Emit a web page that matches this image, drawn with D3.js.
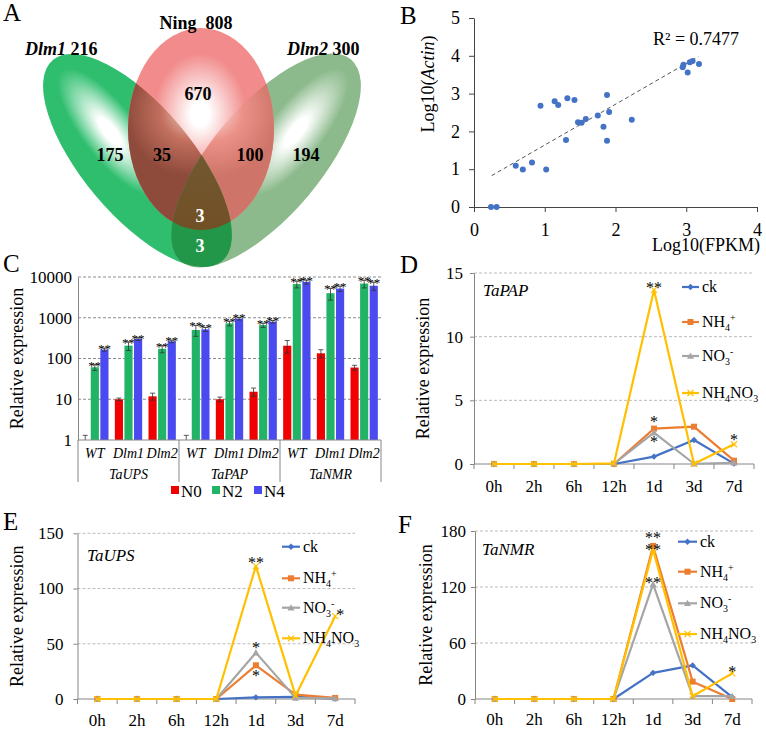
<!DOCTYPE html>
<html><head><meta charset="utf-8">
<script src="https://cdn.jsdelivr.net/npm/d3@7"></script>
<style>
body{margin:0;background:#fff}
svg{display:block}
text{font-family:"Liberation Serif","Times New Roman",serif;fill:#000}
</style>
</head><body>
<svg id="c" width="766" height="729"></svg>
<script>
// ================= DATA =================
// Panel A (Venn)
const vennSetNames = ["Dlm1", "Ning", "Dlm2"];
const vennSetTotals = [216, 808, 300];
// regions: Dlm1 only, Dlm1∩Ning, Ning only, Ning∩Dlm2, Dlm2 only, all three, Dlm1∩Dlm2 only
const vennRegionCounts = [175, 35, 670, 100, 194, 3, 3];

// Panel B (scatter)
const fpkmLog  = [0.24,0.32,0.59,0.69,0.82,1.02,0.94,1.14,1.19,1.32,1.42,1.30,1.47,1.52,1.58,1.75,1.83,1.88,1.88,1.91,2.23,2.95,2.96,3.02,3.05,3.09,3.18];
const actinLog = [0.00,0.00,1.09,0.99,1.18,0.99,2.68,2.80,2.70,2.88,2.83,1.77,2.24,2.23,2.33,2.42,2.12,2.96,1.75,2.51,2.31,3.70,3.76,3.56,3.83,3.86,3.78];
const trendX = [0.25, 3.17];
const trendY = [0.83, 3.98];
const r2Text = "R\u00B2 = 0.7477";
const bXTicks = [0, 1, 2, 3, 4];
const bYTicks = [0, 1, 2, 3, 4, 5];

// Panel C (grouped bars, log scale)
const genes = ["TaUPS", "TaPAP", "TaNMR"];
const genotypes = ["WT", "Dlm1", "Dlm2"];
const nLevels = ["N0", "N2", "N4"];
const exprN0 = [1, 10, 11.8,   1, 10, 15.3,   206, 134, 60];
const exprN2 = [61, 207, 173,  500, 730, 660,  6700, 4000, 6900];
const exprN4 = [166, 302, 264, 520, 950, 800,  7600, 5200, 6100];
const errN0  = [0.3, 0.7, 2.3, 0.3, 1.3, 3.5,  70, 30, 8];
const errN2  = [10, 50, 35,   150, 100, 80,   1300, 1300, 1500];
const errN4  = [15, 25, 20,   60, 70, 60,     900, 800, 1400];
const starsN2 = ["**","**","**","**","**","**","**","**","**"];
const starsN4 = ["**","**","**","**","**","**","**","**","**"];
const cTicks = [1, 10, 100, 1000, 10000];

// Panels D-F (time courses)
const timePoints = ["0h", "2h", "6h", "12h", "1d", "3d", "7d"];
const treatments = ["ck", "NH4+", "NO3-", "NH4NO3"];
// D: TaPAP
const papCk     = [0, 0, 0, 0,    0.58, 1.88, 0.03];
const papNH4    = [0, 0, 0, 0,    2.78, 2.93, 0.26];
const papNO3    = [0, 0, 0, 0.02, 2.46, 0.02, 0.10];
const papNH4NO3 = [0, 0, 0, 0.05, 13.67, 0.02, 1.55];
const papStarAt  = ["1d", "1d", "1d", "7d"];
const papStarVal = [14.0, 3.46, 1.9, 2.1];
const papStarTxt = ["**", "*", "*", "*"];
const papTicks = [0, 5, 10, 15];
// E: TaUPS
const upsCk     = [0, 0, 0, 0, 1.5, 2, 0.3];
const upsNH4    = [0, 0, 0, 0, 30.5, 4, 1];
const upsNO3    = [0, 0, 0, 0, 42, 1, 0.5];
const upsNH4NO3 = [0, 0, 0, 0, 120.3, 3, 75];
const upsStarAt  = ["1d", "1d", "1d", "7d"];
const upsStarVal = [125.8, 48, 23.5, 78.7];
const upsStarTxt = ["**", "*", "*", "*"];
const upsTicks = [0, 50, 100, 150];
// F: TaNMR
const nmrCk     = [0, 0, 0, 0, 28, 36, 2];
const nmrNH4    = [0, 0, 0, 0, 164, 18.6, 0];
const nmrNO3    = [0, 0, 0, 0, 123, 3, 3];
const nmrNH4NO3 = [0, 0, 0, 0, 160, 3, 27.5];
const nmrStarAt  = ["1d", "1d", "1d", "7d"];
const nmrStarVal = [174.7, 161.8, 126.8, 32];
const nmrStarTxt = ["**", "**", "**", "*"];
const nmrTicks = [0, 60, 120, 180];

// ================= DRAWING =================
const svg = d3.select("#c");
const defs = svg.append("defs");
const AXIS = "#868686";

function panelLetter(t, x, y) {
  svg.append("text").attr("x", x).attr("y", y).attr("font-size", 25).text(t);
}

// ---------- Panel A ----------
(function () {
  const gA = svg.append("g");
  const E = {
    Dlm1: { cx: 137.5, cy: 160.5, rx: 131.4, ry: 54.7, rot: 49.9 },
    Ning: { cx: 201, cy: 129, rx: 73, ry: 101, rot: 0 },
    Dlm2: { cx: 266, cy: 160.5, rx: 132, ry: 55, rot: -49.9 }
  };
  vennSetNames.forEach(n => {
    const e = E[n];
    defs.append("clipPath").attr("id", "clip" + n).append("ellipse")
      .attr("cx", 0).attr("cy", 0).attr("rx", e.rx).attr("ry", e.ry)
      .attr("transform", `translate(${e.cx},${e.cy}) rotate(${e.rot})`);
  });
  function radGrad(id, cx, cy, sx, sy, rot, stops) {
    const g = defs.append("radialGradient").attr("id", id)
      .attr("gradientUnits", "userSpaceOnUse").attr("cx", 0).attr("cy", 0).attr("r", 1)
      .attr("gradientTransform", `translate(${cx},${cy}) rotate(${rot}) scale(${sx},${sy})`);
    stops.forEach(([o, c]) => g.append("stop").attr("offset", o).attr("stop-color", c));
  }
  radGrad("gD1", 110, 132, 78, 27, 52, [[0, "#ffffff"], [0.22, "#ffffff"], [1, "#2ebe6e"]]);
  radGrad("gD2", 296, 132, 78, 27, -52, [[0, "#ffffff"], [0.22, "#ffffff"], [1, "#8cba8c"]]);
  radGrad("gN", 200, 114, 46, 60, 0, [[0, "#ffffff"], [0.2, "#ffffff"], [1, "#f28c8c"]]);
  radGrad("gN1", 190, 112, 64, 64, 0, [[0, "#f0cfc6"], [0.45, "#c3705f"], [1, "#8e4a3b"]]);
  radGrad("gN2", 214, 112, 64, 64, 0, [[0, "#fadcd6"], [0.45, "#eb9188"], [1, "#cf7468"]]);
  const lg = defs.append("linearGradient").attr("id", "gT").attr("x1", 0).attr("y1", 0).attr("x2", 0).attr("y2", 1);
  lg.append("stop").attr("offset", 0).attr("stop-color", "#6e6a46");
  lg.append("stop").attr("offset", 1).attr("stop-color", "#734a1f");

  function region(clips, fill) {
    let g = gA;
    clips.forEach(c => { g = g.append("g").attr("clip-path", `url(#clip${c})`); });
    g.append("rect").attr("x", 0).attr("y", 0).attr("width", 400).attr("height", 280).attr("fill", fill);
  }
  region(["Dlm1"], "url(#gD1)");
  region(["Dlm2"], "url(#gD2)");
  region(["Ning"], "url(#gN)");
  region(["Ning", "Dlm1"], "url(#gN1)");
  region(["Ning", "Dlm2"], "url(#gN2)");
  region(["Dlm1", "Dlm2"], "#22974a");
  region(["Dlm1", "Dlm2", "Ning"], "url(#gT)");

  // set titles
  const t1 = gA.append("text").attr("x", 25).attr("y", 55).attr("font-size", 18).attr("font-weight", "bold");
  t1.append("tspan").attr("font-style", "italic").text(vennSetNames[0]);
  t1.append("tspan").text(" " + vennSetTotals[0]);
  gA.append("text").attr("x", 196).attr("y", 29).attr("text-anchor", "middle").attr("font-size", 18)
    .attr("font-weight", "bold").text(vennSetNames[1] + "\u00A0\u00A0" + vennSetTotals[1]);
  const t3 = gA.append("text").attr("x", 287).attr("y", 55).attr("font-size", 18).attr("font-weight", "bold");
  t3.append("tspan").attr("font-style", "italic").text(vennSetNames[2]);
  t3.append("tspan").text(" " + vennSetTotals[2]);

  const pos = [[110, 161], [162, 161], [198, 100], [250, 161], [306, 161], [200, 222], [200, 252]];
  const col = ["#000", "#000", "#000", "#000", "#000", "#fff", "#fff"];
  vennRegionCounts.forEach((v, i) => {
    gA.append("text").attr("x", pos[i][0]).attr("y", pos[i][1]).attr("text-anchor", "middle")
      .attr("font-size", 18).attr("font-weight", "bold").style("fill", col[i]).text(v);
  });
  panelLetter("A", 3, 21);
})();

// ---------- Panel B ----------
(function () {
  const g = svg.append("g");
  const x = d3.scaleLinear().domain([0, 4]).range([474, 757]);
  const y = d3.scaleLinear().domain([0, 5]).range([207, 18]);
  const xa = g.append("g").attr("transform", `translate(0,${y(0)})`)
    .call(d3.axisBottom(x).tickValues(bXTicks).tickSize(5).tickSizeOuter(0).tickPadding(11).tickFormat(d3.format("d")));
  const ya = g.append("g").attr("transform", `translate(${x(0)},0)`)
    .call(d3.axisLeft(y).tickValues(bYTicks).tickSize(5).tickSizeOuter(0).tickPadding(9).tickFormat(d3.format("d")));
  [xa, ya].forEach(a => {
    a.attr("font-family", null);
    a.select(".domain").attr("stroke", "#444");
    a.selectAll(".tick line").attr("stroke", "#444");
    a.selectAll("text").attr("font-size", 18).style("fill", "#000");
  });
  g.append("line").attr("x1", x(trendX[0])).attr("y1", y(trendY[0])).attr("x2", x(trendX[1])).attr("y2", y(trendY[1]))
    .attr("stroke", "#555").attr("stroke-width", 1).attr("stroke-dasharray", "4,3");
  g.selectAll("circle.pt").data(fpkmLog).join("circle").attr("class", "pt")
    .attr("cx", d => x(d)).attr("cy", (d, i) => y(actinLog[i])).attr("r", 3).attr("fill", "#4472c4");
  g.append("text").attr("x", 653).attr("y", 45).attr("font-size", 18).text(r2Text);
  g.append("text").attr("x", 760).attr("y", 251).attr("text-anchor", "end").attr("font-size", 18).text("Log10(FPKM)");
  const yl = g.append("text").attr("transform", "translate(434,84) rotate(-90)").attr("text-anchor", "middle").attr("font-size", 18);
  yl.append("tspan").text("Log10(");
  yl.append("tspan").attr("font-style", "italic").text("Actin");
  yl.append("tspan").text(")");
  panelLetter("B", 400, 24);
})();

// ---------- Panel C ----------
(function () {
  const g = svg.append("g");
  const cats = [];
  genes.forEach(ge => genotypes.forEach(gt => cats.push(ge + "|" + gt)));
  const x = d3.scaleBand().domain(cats).range([78, 381]);
  const xi = d3.scaleBand().domain(nLevels).range([0, x.bandwidth()]).paddingInner(0.15).paddingOuter(0.33);
  const y = d3.scaleLog().domain([1, 10000]).range([440, 277]);
  const colors = { N0: "#f00000", N2: "#22b466", N4: "#4a4af0" };
  g.selectAll("line.grid").data(cTicks.slice(1)).join("line").attr("class", "grid")
    .attr("x1", 78).attr("x2", 381).attr("y1", d => y(d)).attr("y2", d => y(d))
    .attr("stroke", "#8c8c8c").attr("stroke-dasharray", "3,2");
  const ya = g.append("g").attr("transform", "translate(78,0)")
    .call(d3.axisLeft(y).tickValues(cTicks).tickSize(0).tickPadding(6).tickFormat(d3.format("d")));
  ya.attr("font-family", null);
  ya.select(".domain").attr("stroke", AXIS);
  ya.selectAll("text").attr("font-size", 17).style("fill", "#000");
  const series = [["N0", exprN0, errN0, null], ["N2", exprN2, errN2, starsN2], ["N4", exprN4, errN4, starsN4]];
  series.forEach(([lvl, vals, errs, stars]) => {
    const bx = i => x(cats[i]) + xi(lvl);
    g.selectAll("rect.b" + lvl).data(vals).join("rect").attr("class", "b" + lvl)
      .attr("x", (d, i) => bx(i)).attr("width", xi.bandwidth())
      .attr("y", d => y(d)).attr("height", d => y(1) - y(d)).attr("fill", colors[lvl]);
    vals.forEach((v, i) => {
      const cx = bx(i) + xi.bandwidth() / 2;
      const top = y(v + errs[i]);
      const bot = y(Math.max(v - errs[i], 1));
      g.append("line").attr("x1", cx).attr("x2", cx).attr("y1", top).attr("y2", bot).attr("stroke", "#333").attr("stroke-width", 0.8);
      g.append("line").attr("x1", cx - 2.5).attr("x2", cx + 2.5).attr("y1", top).attr("y2", top).attr("stroke", "#333").attr("stroke-width", 0.8);
      if (bot < y(1) - 0.5)
        g.append("line").attr("x1", cx - 2.5).attr("x2", cx + 2.5).attr("y1", bot).attr("y2", bot).attr("stroke", "#333").attr("stroke-width", 0.8);
      if (stars && stars[i])
        g.append("text").attr("x", cx).attr("y", top + 5).attr("text-anchor", "middle").attr("font-size", 13).text(stars[i]);
    });
  });
  g.append("line").attr("x1", 78).attr("x2", 381).attr("y1", y(1)).attr("y2", y(1)).attr("stroke", AXIS);
  const bounds = [0, 3, 6].map(i => x(cats[i])).concat([x.range()[1]]);
  g.selectAll("line.sep").data(bounds).join("line").attr("class", "sep")
    .attr("x1", d => d).attr("x2", d => d).attr("y1", y(1)).attr("y2", 482).attr("stroke", AXIS);
  cats.forEach(c => {
    g.append("text").attr("x", x(c) + x.bandwidth() / 2).attr("y", 458).attr("text-anchor", "middle")
      .attr("font-size", 14).attr("font-style", "italic").text(c.split("|")[1]);
  });
  genes.forEach((ge, k) => {
    g.append("text").attr("x", (bounds[k] + bounds[k + 1]) / 2).attr("y", 479).attr("text-anchor", "middle")
      .attr("font-size", 14).attr("font-style", "italic").text(ge);
  });
  const lx = [171, 212, 254];
  nLevels.forEach((n, i) => {
    g.append("rect").attr("x", lx[i]).attr("y", 486).attr("width", 8).attr("height", 8).attr("fill", colors[n]);
    g.append("text").attr("x", lx[i] + 10).attr("y", 497).attr("font-size", 17).text(n);
  });
  g.append("text").attr("transform", `translate(23,${(277 + 440) / 2}) rotate(-90)`).attr("text-anchor", "middle")
    .attr("font-size", 18).text("Relative expression");
  panelLetter("C", 3, 272);
})();

// ---------- Panels D-F ----------
const serColors = ["#4472c4", "#ed7d31", "#a5a5a5", "#ffc000"];
const serMarkers = ["diamond", "square", "triangle", "x"];

function marker(g, type, color, cx, cy) {
  if (type === "diamond") {
    g.append("path").attr("d", `M${cx},${cy - 3.2}L${cx + 3.2},${cy}L${cx},${cy + 3.2}L${cx - 3.2},${cy}Z`).attr("fill", color);
  } else if (type === "square") {
    g.append("rect").attr("x", cx - 3).attr("y", cy - 3).attr("width", 6).attr("height", 6).attr("fill", color);
  } else if (type === "triangle") {
    g.append("path").attr("d", `M${cx},${cy - 3.5}L${cx + 3.5},${cy + 2.8}L${cx - 3.5},${cy + 2.8}Z`).attr("fill", color);
  } else {
    g.append("path").attr("d", `M${cx - 3},${cy - 3}L${cx + 3},${cy + 3}M${cx - 3},${cy + 3}L${cx + 3},${cy - 3}`)
      .attr("stroke", color).attr("stroke-width", 1.2).attr("fill", "none");
  }
}

function chemLabel(t, label, fs) {
  const parts = label.match(/[A-Za-z]+|\d|[+-]/g);
  let state = 0;
  parts.forEach(p => {
    const target = /\d/.test(p) ? 1 : (/[+-]/.test(p) ? 2 : 0);
    const off = [0, 4, -6];
    const ts = t.append("tspan").attr("dy", off[target] - off[state]).text(p);
    if (target !== 0) ts.attr("font-size", fs * 0.62);
    state = target;
  });
}

function lineChart(cfg) {
  const g = svg.append("g");
  const x = d3.scaleBand().domain(timePoints).range([cfg.left, cfg.right]);
  const y = d3.scaleLinear().domain([0, cfg.ticks[cfg.ticks.length - 1]]).range([cfg.bottom, cfg.top]);
  g.selectAll("line.grid").data(cfg.ticks.slice(1)).join("line").attr("class", "grid")
    .attr("x1", cfg.left).attr("x2", cfg.gridRight).attr("y1", d => y(d)).attr("y2", d => y(d))
    .attr("stroke", "#bcbcbc").attr("stroke-dasharray", "3,2");
  const ya = g.append("g").attr("transform", `translate(${cfg.left},0)`)
    .call(d3.axisLeft(y).tickValues(cfg.ticks).tickSize(4).tickSizeOuter(0).tickPadding(cfg.yPad));
  ya.attr("font-family", null);
  ya.select(".domain").attr("stroke", AXIS);
  ya.selectAll(".tick line").attr("stroke", AXIS);
  ya.selectAll("text").attr("font-size", 17).style("fill", "#000");
  g.append("line").attr("x1", cfg.left).attr("x2", cfg.right).attr("y1", y(0)).attr("y2", y(0)).attr("stroke", AXIS);
  const bnds = timePoints.map(t => x(t)).concat([cfg.right]);
  g.selectAll("line.xt").data(bnds).join("line").attr("class", "xt")
    .attr("x1", d => d).attr("x2", d => d).attr("y1", y(0)).attr("y2", y(0) + 5).attr("stroke", AXIS);
  timePoints.forEach(t => {
    g.append("text").attr("x", x(t) + x.bandwidth() / 2).attr("y", y(0) + cfg.xlabDy).attr("text-anchor", "middle")
      .attr("font-size", 17).text(t);
  });
  const line = d3.line().x((d, i) => x(timePoints[i]) + x.bandwidth() / 2).y(d => y(d));
  cfg.series.forEach((vals, s) => {
    g.append("path").attr("d", line(vals)).attr("fill", "none").attr("stroke", serColors[s]).attr("stroke-width", 2.2)
      .attr("stroke-linejoin", "round");
    vals.forEach((v, i) => marker(g, serMarkers[s], serColors[s], x(timePoints[i]) + x.bandwidth() / 2, y(v)));
  });
  cfg.starAt.forEach((t, i) => {
    g.append("text").attr("x", x(t) + x.bandwidth() / 2 + (cfg.starDx ? cfg.starDx[i] : 0))
      .attr("y", y(cfg.starVal[i]) + 7.5).attr("text-anchor", "middle").attr("font-size", 16).text(cfg.starTxt[i]);
  });
  treatments.forEach((tr, s) => {
    const ly = cfg.legY[s];
    g.append("line").attr("x1", cfg.legX[0]).attr("x2", cfg.legX[1]).attr("y1", ly).attr("y2", ly)
      .attr("stroke", serColors[s]).attr("stroke-width", 2.2);
    marker(g, serMarkers[s], serColors[s], (cfg.legX[0] + cfg.legX[1]) / 2, ly);
    const t = g.append("text").attr("x", cfg.legX[1] + 3).attr("y", ly + 5).attr("font-size", 16);
    chemLabel(t, tr, 16);
  });
  g.append("text").attr("x", cfg.geneX).attr("y", cfg.geneY).attr("font-size", 17).attr("font-style", "italic").text(cfg.gene);
  g.append("text").attr("transform", `translate(${cfg.ylabX},${(cfg.top + cfg.bottom) / 2}) rotate(-90)`)
    .attr("text-anchor", "middle").attr("font-size", 18).text("Relative expression");
}

lineChart({
  left: 474, right: 754, gridRight: 752, top: 273, bottom: 464, ticks: papTicks, yPad: 7, xlabDy: 28,
  series: [papCk, papNH4, papNO3, papNH4NO3], starAt: papStarAt, starVal: papStarVal, starTxt: papStarTxt,
  legY: [287, 322, 356, 393], legX: [682, 699], gene: "TaPAP", geneX: 483, geneY: 296, ylabX: 429
});
panelLetter("D", 400, 273);

lineChart({
  left: 77.5, right: 355, gridRight: 355, top: 533.3, bottom: 699, ticks: upsTicks, yPad: 10, xlabDy: 27,
  series: [upsCk, upsNH4, upsNO3, upsNH4NO3], starAt: upsStarAt, starVal: upsStarVal, starTxt: upsStarTxt,
  starDx: [0, 0, 0, 5],
  legY: [546.7, 578.3, 607.7, 638.3], legX: [282, 300], gene: "TaUPS", geneX: 87, geneY: 561, ylabX: 23
});
panelLetter("E", 3, 530);

lineChart({
  left: 475, right: 752, gridRight: 755, top: 531, bottom: 699, ticks: nmrTicks, yPad: 5, xlabDy: 26,
  series: [nmrCk, nmrNH4, nmrNO3, nmrNH4NO3], starAt: nmrStarAt, starVal: nmrStarVal, starTxt: nmrStarTxt,
  legY: [541.7, 571.7, 603.3, 634], legX: [678, 697], gene: "TaNMR", geneX: 482, geneY: 555, ylabX: 432
});
panelLetter("F", 398, 533);
</script>
</body></html>
